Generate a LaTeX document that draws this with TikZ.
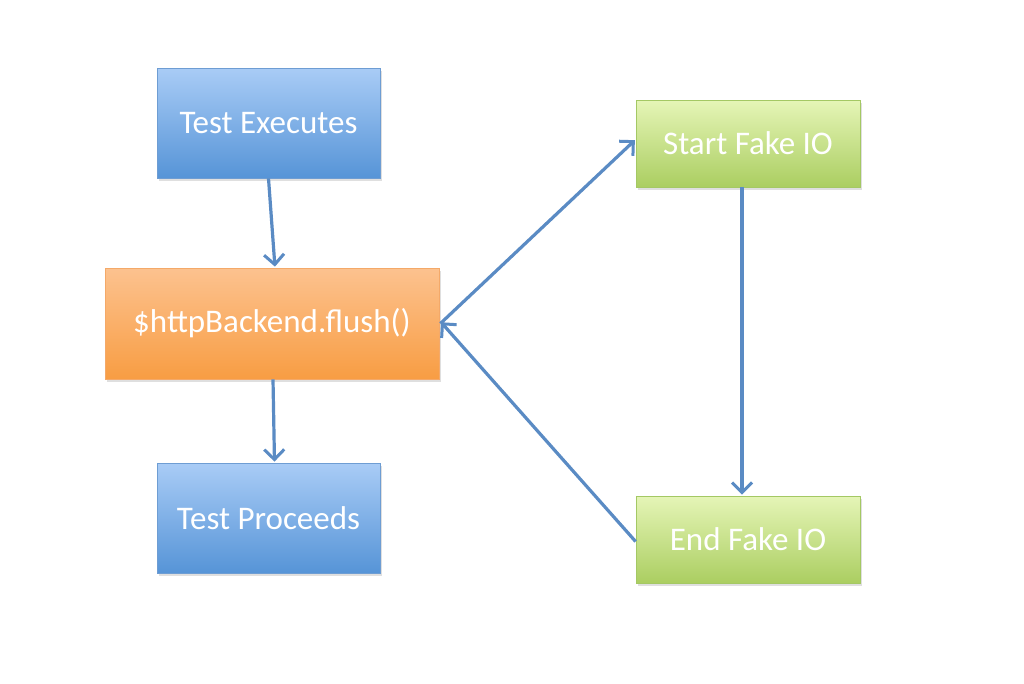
\documentclass[tikz,border=0pt]{standalone}
\usepackage{fontspec}
\setmainfont{Carlito}
\usetikzlibrary{arrows.meta,shadows}
\definecolor{lineblue}{HTML}{5A8BC4}
\definecolor{bluetop}{HTML}{A9CCF6}
\definecolor{bluebot}{HTML}{5694D7}
\definecolor{blueedge}{HTML}{6E9DD3}
\definecolor{orgtop}{HTML}{FCC28F}
\definecolor{orgbot}{HTML}{F89D43}
\definecolor{orgedge}{HTML}{F4A969}
\definecolor{grntop}{HTML}{E5F5B7}
\definecolor{grnbot}{HTML}{ABCE61}
\definecolor{grnedge}{HTML}{A4C864}
\tikzset{
  x=1pt, y=-1pt,
  boxbase/.style={rectangle, text=white, font=\fontsize{33}{38}\selectfont,
    line width=0.8pt, inner sep=0pt,
    drop shadow={opacity=0.25, shadow xshift=1.5pt, shadow yshift=-2.5pt}},
  bluebox/.style={boxbase, draw=blueedge, top color=bluetop, bottom color=bluebot,
    minimum width=223pt, minimum height=110pt},
  orangebox/.style={boxbase, draw=orgedge, top color=orgtop, bottom color=orgbot,
    minimum width=334pt, minimum height=111pt},
  greenbox/.style={boxbase, draw=grnedge, top color=grntop, bottom color=grnbot,
    minimum width=224pt, minimum height=87pt},
  conn/.style={draw=lineblue, line width=3.2pt,
    -{Straight Barb[length=10pt,width=20pt,line width=3pt]}, shorten >=1pt}
}
\begin{document}
\begin{tikzpicture}
\useasboundingbox (0,0) rectangle (1024,683);
\fill[white] (0,0) rectangle (1024,683);
\node[bluebox] (exec) at (268.5,123) {Test Executes};
\node[orangebox] (flush) at (272,323.5) {\$httpBackend.flush()};
\node[bluebox] (proc) at (268.5,518) {Test Proceeds};
\node[greenbox] (start) at (748,143.5) {Start Fake IO};
\node[greenbox] (end) at (748,539.5) {End Fake IO};
\draw[conn] (exec.south) -- ([xshift=3pt]flush.north);
\draw[conn] ([xshift=1pt]flush.south) -- ([xshift=6pt]proc.north);
\draw[conn] ([xshift=1pt]flush.east) -- ([yshift=4pt]start.west);
\draw[conn] ([xshift=-6pt]start.south) -- ([xshift=-6pt]end.north);
\draw[conn] ([yshift=-2pt]end.west) -- ([yshift=2pt,xshift=1pt]flush.east);
\end{tikzpicture}
\end{document}
